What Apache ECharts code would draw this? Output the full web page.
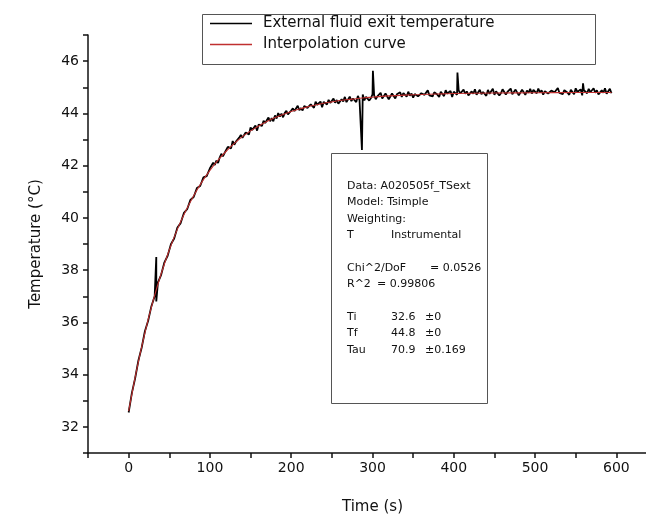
<!DOCTYPE html>
<html><head><meta charset="utf-8">
<script src="https://cdn.jsdelivr.net/npm/echarts@6/dist/echarts.min.js"></script>
<style>html,body{margin:0;padding:0;background:#fff}#c{width:646px;height:514px}</style>
</head><body><div id="c"></div>
<script>
const seriesNames = ['External fluid exit temperature', 'Interpolation curve'];
const measuredTimes = [0,4,8,12,16,20,24,28,32,34,34,36,40,44,48,52,56,60,64,68,72,76,80,84,88,92,96,
100,102,104,106,108,110,112,114,116,118,120,122,124,126,128,130,132,134,136,138,140,142,144,146,148,150,152,154,156,158,160,162,164,166,168,170,172,174,176,178,
180,182,184,186,188,190,192,194,196,198,200,202,204,206,208,210,212,214,216,218,220,222,224,226,228,230,232,234,236,238,240,242,244,246,248,250,252,254,256,258,
260,262,264,266,268,270,272,274,276,278,280,282,284,286,287,288,290,292,294,296,298,300,300.5,302,304,306,308,310,312,314,316,318,320,322,324,326,328,330,332,334,336,338,
340,342,344,346,348,350,352,354,356,358,360,362,364,366,368,370,372,374,376,378,380,382,384,386,388,390,392,394,396,398,400,402,404,404.5,406,408,410,412,414,416,418,
420,422,424,426,428,430,432,434,436,438,440,442,444,446,448,450,452,454,456,458,460,462,464,466,468,470,472,474,476,478,480,482,484,486,488,490,492,494,496,498,
500,502,504,506,508,510,512,514,516,518,520,522,524,526,528,530,532,534,536,538,540,542,544,546,548,550,552,554,556,558,559,560,562,564,566,568,570,572,574,576,578,
580,582,584,586,588,590,592,594];
const measuredTemps = [32.55,33.30,33.86,34.54,35.03,35.66,36.06,36.62,37.00,38.50,36.80,37.52,37.82,38.30,38.55,38.99,39.21,39.63,39.80,40.19,40.33,40.69,40.80,41.14,41.22,41.55,41.60,
41.90,41.84,42.11,42.03,42.19,42.10,42.31,42.45,42.36,42.36,42.60,42.72,42.66,42.66,42.94,42.80,42.92,42.87,43.07,43.17,43.07,43.03,43.27,43.27,43.19,43.46,43.36,43.35,43.54,43.34,43.57,43.57,43.52,43.72,43.63,43.60,43.84,43.70,43.82,43.70,
43.92,43.80,44.01,43.88,43.99,43.85,44.01,44.10,43.96,43.92,44.11,44.19,44.09,44.05,44.29,44.12,44.20,44.11,44.28,44.34,44.21,44.14,44.35,44.32,44.21,44.45,44.33,44.29,44.45,44.23,44.44,44.42,44.34,44.52,44.40,44.35,44.57,44.41,44.51,44.37,
44.38,44.54,44.46,44.63,44.43,44.50,44.64,44.47,44.57,44.61,44.43,44.67,44.52,44.58,42.60,44.72,44.50,44.63,44.68,44.49,44.58,44.73,45.63,44.69,44.54,44.65,44.59,44.79,44.57,44.64,44.76,44.70,44.54,44.60,44.76,44.70,44.57,44.73,44.66,44.81,44.63,44.78,
44.78,44.64,44.83,44.68,44.76,44.60,44.74,44.81,44.65,44.59,44.77,44.83,44.71,44.65,44.88,44.69,44.75,44.65,44.81,44.86,44.71,44.63,44.83,44.79,44.66,44.89,44.76,44.71,44.86,44.63,44.83,44.80,44.71,45.56,44.88,44.76,44.70,44.91,44.75,44.84,44.69,
44.69,44.84,44.75,44.92,44.71,44.77,44.90,44.73,44.82,44.85,44.67,44.90,44.75,44.80,44.94,44.71,44.84,44.88,44.69,44.77,44.92,44.87,44.72,44.82,44.76,44.95,44.73,44.79,44.91,44.85,44.69,44.75,44.91,44.84,44.71,44.87,44.79,44.94,44.76,44.90,
44.91,44.77,44.95,44.80,44.88,44.72,44.85,44.92,44.76,44.70,44.87,44.93,44.81,44.75,44.97,44.78,44.84,44.74,44.89,44.94,44.79,44.71,44.90,44.86,44.73,44.96,44.82,44.77,44.92,44.69,45.15,44.89,44.86,44.77,44.94,44.81,44.75,44.96,44.79,44.88,44.73,
44.73,44.88,44.79,44.96,44.75,44.81,44.94,44.77];
const fitTimes = [0,10,20,30,40,50,60,70,80,90,100,110,120,130,140,150,160,170,180,190,200,210,220,230,240,250,260,270,280,290,300,320,340,360,380,400,450,500,550,594];
const fitTemps = [32.60,34.20,35.60,36.81,37.86,38.77,39.57,40.25,40.85,41.37,41.82,42.21,42.55,42.85,43.11,43.33,43.52,43.69,43.84,43.96,44.07,44.17,44.25,44.32,44.39,44.44,44.49,44.53,44.56,44.60,44.62,44.67,44.70,44.72,44.74,44.76,44.78,44.79,44.80,44.80];
const xTickLabels = [0,100,200,300,400,500,600];
const yTickLabels = [32,34,36,38,40,42,44,46];
const fitInfoLeft = ['Data: A020505f_TSext','Model: Tsimple','Weighting:','T','','Chi^2/DoF','R^2','','Ti','Tf','Tau'];
const fitInfoMid = ['','','','Instrumental','','','= 0.99806','','32.6','44.8','70.9'];
const fitInfoRight = ['','','','','','= 0.0526','','','±0','±0','±0.169'];

const FONT = 'DejaVu Sans';
const measured = measuredTimes.map((t, i) => [t, measuredTemps[i]]);
const fit = fitTimes.map((t, i) => [t, fitTemps[i]]);

const infoGraphics = [];
const lineY0 = 187.5, lineStep = 16.4;
fitInfoLeft.forEach((s, i) => {
  const y = lineY0 + i * lineStep;
  if (s) infoGraphics.push({type:'text', left:347, top:y - 7, style:{text:s, font:'11px ' + FONT, fill:'#111'}});
  if (fitInfoMid[i]) infoGraphics.push({type:'text', left: (i === 6 ? 377 : 391), top:y - 7, style:{text:fitInfoMid[i], font:'11px ' + FONT, fill:'#111'}});
  if (fitInfoRight[i]) infoGraphics.push({type:'text', left: (i === 5 ? 430 : 425), top:y - 7, style:{text:fitInfoRight[i], font:'11px ' + FONT, fill:'#111'}});
});

const chart = echarts.init(document.getElementById('c'), null, {renderer:'canvas'});
chart.setOption({
  animation: false,
  backgroundColor: '#fff',
  grid: {left: 88, top: 35, width: 569, height: 418, outerBoundsMode: 'none', containLabel: false},
  legend: {
    orient: 'vertical', left: 200, top: 12, padding: [4, 10, 4, 10], itemGap: 6,
    itemWidth: 42, itemHeight: 1.5, icon: 'rect',
    data: seriesNames,
    textStyle: {fontFamily: FONT, fontSize: 15, color: '#111', padding: [0, 0, 0, 6]}
  },
  xAxis: {
    type: 'value', min: -50, max: 650, interval: 50,
    name: 'Time (s)', nameLocation: 'middle', nameGap: 47,
    nameTextStyle: {fontFamily: FONT, fontSize: 15, color: '#111'},
    axisLine: {show: true, onZero: false, lineStyle: {color: '#111', width: 1.5}},
    axisTick: {show: true, length: 5, lineStyle: {color: '#111', width: 1.5}},
    axisLabel: {fontFamily: FONT, fontSize: 14, color: '#111', margin: 8,
      formatter: v => xTickLabels.indexOf(v) >= 0 ? String(v) : ''},
    splitLine: {show: false}
  },
  yAxis: {
    type: 'value', min: 31, max: 47, interval: 1,
    name: 'Temperature (°C)', nameLocation: 'middle', nameGap: 44, nameRotate: 90,
    nameTextStyle: {fontFamily: FONT, fontSize: 15, color: '#111'},
    axisLine: {show: true, onZero: false, lineStyle: {color: '#111', width: 1.5}},
    axisTick: {show: true, length: 5, lineStyle: {color: '#111', width: 1.5}},
    axisLabel: {fontFamily: FONT, fontSize: 14, color: '#111', margin: 9,
      formatter: v => yTickLabels.indexOf(v) >= 0 ? String(v) : ''},
    splitLine: {show: false}
  },
  graphic: [
    {type:'rect', left:200, top:12, shape:{width:393, height:50}, style:{fill:'none', stroke:'#555', lineWidth:1}, z:-1},
    {type:'rect', left:331, top:153, shape:{width:156, height:250}, style:{fill:'#fff', stroke:'#555', lineWidth:1}, z:10},
    ...infoGraphics.map(g => Object.assign(g, {z: 11}))
  ],
  series: [
    {name: seriesNames[0], type: 'line', data: measured, showSymbol: false, symbol: 'none',
      color: '#000', lineStyle: {color: '#000', width: 1.8}, z: 2},
    {name: seriesNames[1], type: 'line', data: fit, showSymbol: false, symbol: 'none', smooth: 0.3,
      color: '#c03030', lineStyle: {color: '#c03030', width: 1.1}, z: 3}
  ]
});
</script></body></html>
